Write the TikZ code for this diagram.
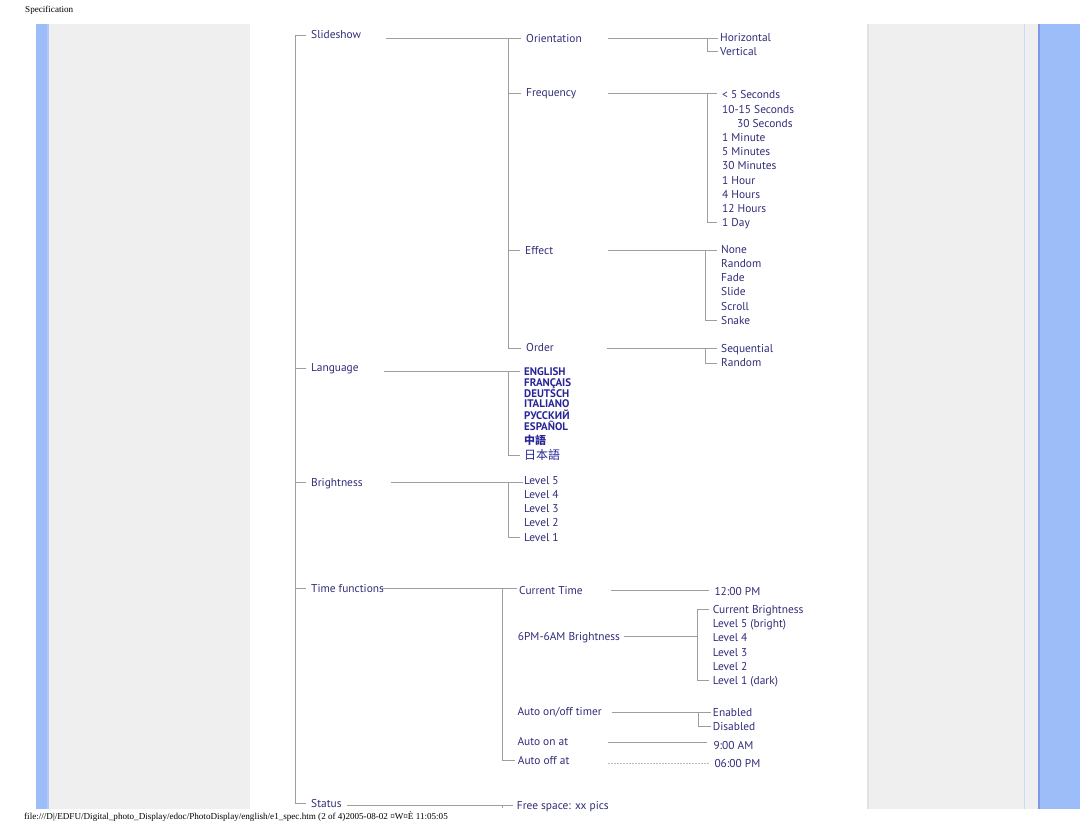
\documentclass[tikz,border=0pt]{standalone}
\usepackage{fontspec}
\usepackage{tikz}
\setmainfont{Liberation Serif}
\newfontfamily\menufont{PT Sans}
\newfontfamily\cjkfont{Noto Sans CJK TC}
\definecolor{menutext}{RGB}{48,44,120}
\definecolor{langtext}{RGB}{40,38,150}
\definecolor{treeline}{RGB}{158,158,158}
\definecolor{barblue}{RGB}{157,189,249}
\definecolor{barlight}{RGB}{178,202,251}
\definecolor{baredge}{RGB}{128,150,230}
\definecolor{panelgray}{RGB}{239,239,239}
\definecolor{paneledge}{RGB}{226,226,226}
\definecolor{panelrule}{RGB}{205,218,245}

\begin{document}
\begin{tikzpicture}[x=1pt, y=-1pt,
  item/.style={anchor=west, inner sep=0pt, text height=8pt, text depth=0pt,
    text=menutext, font=\menufont\fontsize{11.4}{11.4}\selectfont},
  lang/.style={item, text=langtext, font=\menufont\bfseries\fontsize{11}{11}\selectfont},
  link/.style={draw=treeline, line width=0.9pt},
  pagetext/.style={anchor=west, inner sep=0pt, font=\fontsize{9.1}{9.1}\selectfont}]
\useasboundingbox (0,0) rectangle (1080,834);

% PAGE FRAME
\fill[barblue] (36,24) rectangle (47,809);
\fill[barlight] (47,24) rectangle (49,809);
\fill[panelgray] (49,24) rectangle (250,809);
\fill[panelgray] (867,24) rectangle (1038,809);
\fill[paneledge] (867,24) rectangle (869,809);
\draw[panelrule] (1024.5,24) -- (1024.5,809);
\fill[barblue] (1038,24) rectangle (1080,809);
\fill[baredge] (1038,24) rectangle (1040,809);
\node[pagetext] (header) at (25,10) {Specification};
\node[pagetext] (footer) at (24,817) {file:///D|/EDFU/Digital\_photo\_Display/edoc/PhotoDisplay/english/e1\_spec.htm (2 of 4)2005-08-02 ¤W¤È 11:05:05};

% TOP LEVEL
\node[item] (slideshow) at (311,35) {Slideshow};
\node[item] (language) at (311,368) {Language};
\node[item] (brightness) at (311,482) {Brightness};
\node[item] (timefn) at (311,588.5) {Time functions};
\node[item] (status) at (311,803) {Status};
\draw[link] ([xshift=-5pt]slideshow.west) -- (295,0 |- slideshow.west)
  -- (295,0 |- status.west) -- ([xshift=-5pt]status.west);
\foreach \n in {language,brightness,timefn}
  \draw[link] (295,0 |- \n.west) -- ([xshift=-5pt]\n.west);

% SLIDESHOW
\node[item] (orient) at (526,38.5) {Orientation};
\node[item] (freq) at (526,93) {Frequency};
\node[item] (effect) at (525,250.5) {Effect};
\node[item] (order) at (526,348) {Order};
\draw[link] (386,0 |- orient.west) -- ([xshift=-5pt]orient.west);
\draw[link] (508,0 |- orient.west) -- (508,0 |- order.west) -- ([xshift=-5pt]order.west);
\foreach \n in {freq,effect}
  \draw[link] (508,0 |- \n.west) -- ([xshift=-5pt]\n.west);

% orientation
\node[item] (horiz) at (720,38) {Horizontal};
\node[item] (vert) at (720,51.5) {Vertical};
\draw[link] (608,0 |- horiz.west) -- ([xshift=-2pt]horiz.west);
\draw[link] (707,0 |- horiz.west) |- ([xshift=-2pt]vert.west);

% frequency
\foreach \t [count=\i] in {{< 5 Seconds},{10-15 Seconds},{},{1 Minute},{5 Minutes},
    {30 Minutes},{1 Hour},{4 Hours},{12 Hours},{1 Day}}
  \node[item] (freq-\i) at (722,95+14.2*\i-14.2) {\t};
\node[item] (freq-3b) at (737,123.4) {30 Seconds};
\draw[link] (608,0 |- freq.west) -- (717,0 |- freq.west);
\draw[link] (707,0 |- freq.west) |- ([xshift=-5pt]freq-10.west);

% effect
\foreach \t [count=\i] in {None,Random,Fade,Slide,Scroll,Snake}
  \node[item] (eff-\i) at (721,249.5+14.15*\i-14.15) {\t};
\draw[link] (608,0 |- effect.west) -- (717,0 |- effect.west);
\draw[link] (705,0 |- effect.west) |- ([xshift=-4pt]eff-6.west);

% order
\node[item] (seq) at (721,349) {Sequential};
\node[item] (rand) at (721,363) {Random};
\draw[link] (607,0 |- order.west) -- (717,0 |- order.west);
\draw[link] (705,0 |- order.west) |- ([xshift=-4pt]rand.west);

% LANGUAGE
\node[lang] (lang-1) at (524,371.7) {ENGLISH};
\node[lang] (lang-2) at (524,382.5) {FRANÇAIS};
\node[lang] (lang-3) at (524,393.2) {DEUTSCH};
\node[lang] (lang-4) at (524,404) {ITALIANO};
\node[lang] (lang-5) at (524,415.3) {РУССКИЙ};
\node[lang] (lang-6) at (524,427) {ESPAÑOL};
\node[lang, font=\cjkfont\bfseries\fontsize{11}{11}\selectfont] (lang-7) at (524,440.7) {中語};
\node[lang, font=\cjkfont\fontsize{12}{12}\selectfont] (lang-8) at (524,455.3) {日本語};
\draw[link] (384,0 |- lang-1.west) -- ([xshift=-4pt]lang-1.west);
\draw[link] (508,0 |- lang-1.west) |- ([xshift=-4pt]lang-8.west);

% BRIGHTNESS
\foreach \i in {1,...,5}
  \node[item] (lvl-\i) at (524,480+14.32*\i-14.32) {Level \the\numexpr6-\i\relax};
\draw[link] (390.7,0 |- brightness.west) -- ([xshift=-1pt]lvl-1.west |- brightness.west);
\draw[link] (508,0 |- brightness.west) |- ([xshift=-4pt]lvl-5.west);

% TIME FUNCTIONS
\node[item] (curtime) at (519,590.7) {Current Time};
\node[item] (night) at (517.7,636.7) {6PM-6AM Brightness};
\node[item] (timer) at (517.3,711.7) {Auto on/off timer};
\node[item] (autoon) at (517.3,741) {Auto on at};
\node[item] (autooff) at (517.7,760) {Auto off at};
\draw[link] (382,0 |- timefn.west) -- (502.7,0 |- timefn.west) -- ([xshift=-2pt]curtime.west |- timefn.west);
\draw[link] (502.7,0 |- timefn.west) |- ([xshift=-3pt]autooff.west);

% current time
\node[item] (noon) at (714.3,591) {12:00 PM};
\draw[link] (611,0 |- curtime.west) -- ([xshift=-5pt]noon.west |- curtime.west);

% night brightness
\node[item] (nb-1) at (712.7,609.3) {Current Brightness};
\node[item] (nb-2) at (712.7,623.7) {Level 5 (bright)};
\node[item] (nb-3) at (712.7,637.7) {Level 4};
\node[item] (nb-4) at (712.7,652) {Level 3};
\node[item] (nb-5) at (712.7,666) {Level 2};
\node[item] (nb-6) at (712.7,680.7) {Level 1 (dark)};
\draw[link] (624,0 |- night.west) -- (697,0 |- night.west);
\draw[link] ([xshift=-4pt]nb-1.west) -| (697,0 |- nb-6.west) -- ([xshift=-4pt]nb-6.west);

% timer
\node[item] (enabled) at (712.7,712) {Enabled};
\node[item] (disabled) at (712.7,726.3) {Disabled};
\draw[link] (611.7,0 |- enabled.west) -- ([xshift=-2pt]enabled.west);
\draw[link] (698.3,0 |- enabled.west) |- ([xshift=-2pt]disabled.west);

% auto on / off
\node[item] (ontime) at (713.3,745.7) {9:00 AM};
\node[item] (offtime) at (714.3,763) {06:00 PM};
\draw[link] (608.3,0 |- autoon.west) ++(0,1.3) -- ([xshift=-6pt]ontime.west |- 0,742.3);
\draw[link, draw=treeline!70, dash pattern=on 2pt off 1pt] (608,0 |- offtime.west) -- ([xshift=-5pt]offtime.west);

% STATUS
\node[item] (free) at (516.7,805) {Free space: xx pics};
\draw[link] (346.7,0 |- free.west) -- ([xshift=-4pt]free.west);
\draw[link] (502.7,0 |- free.west) -- ++(0,3);
\end{tikzpicture}
\end{document}
